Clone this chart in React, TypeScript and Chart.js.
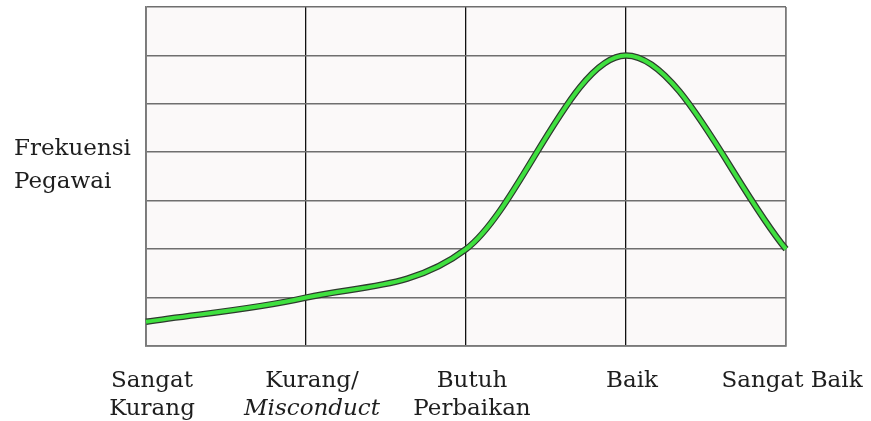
import React, { useEffect, useRef } from "react";
import { Chart, registerables } from "chart.js";

Chart.register(...registerables);

// ---- data ----
const categories = ["Sangat Kurang", "Kurang/Misconduct", "Butuh Perbaikan", "Baik", "Sangat Baik"];
const categoryLabelLines = [["Sangat", "Kurang"], ["Kurang/", "Misconduct"], ["Butuh", "Perbaikan"], ["Baik"], ["Sangat Baik"]];
const italicLines = ["Misconduct"];
const frequency = [0.5, 1, 2, 6, 2];
const yMin = 0;
const yMax = 7;
const yStep = 1;
const yTitleLines = ["Frekuensi", "Pegawai"];

const FONT = "23px 'DejaVu Serif'";
const FONT_ITALIC = "italic 23px 'DejaVu Serif'";
const TEXT_COLOR = "#1e1e1e";

const backgroundPlugin = {
  id: "plotBackground",
  beforeDraw(chart: any) {
    const { ctx, chartArea } = chart;
    ctx.save();
    ctx.fillStyle = "#fbf9f9";
    ctx.fillRect(chartArea.left, chartArea.top, chartArea.right - chartArea.left, chartArea.bottom - chartArea.top);
    ctx.restore();
  },
};

const textPlugin = {
  id: "customText",
  afterDraw(chart: any) {
    const { ctx, chartArea } = chart;
    const xs = chart.scales.x;
    const ys = chart.scales.y;
    ctx.save();
    ctx.fillStyle = TEXT_COLOR;
    ctx.textBaseline = "alphabetic";
    ctx.textAlign = "center";
    categoryLabelLines.forEach((lines, i) => {
      const px = xs.getPixelForValue(i) + 6;
      lines.forEach((line, j) => {
        ctx.font = italicLines.includes(line) ? FONT_ITALIC : FONT;
        ctx.fillText(line, px, chartArea.bottom + 41 + j * 28);
      });
    });
    ctx.textAlign = "left";
    ctx.font = FONT;
    const mid = ys.getPixelForValue(4);
    yTitleLines.forEach((line, j) => {
      ctx.fillText(line, 14, mid + 3 + j * 33);
    });
    ctx.restore();
  },
};

export default function App() {
  const ref = useRef<HTMLCanvasElement | null>(null);
  useEffect(() => {
    if (!ref.current) return;
    const chart = new Chart(ref.current, {
      type: "line",
      data: {
        labels: categories,
        datasets: [
          {
            data: frequency,
            borderColor: "#3fe03f",
            borderWidth: 4,
            pointRadius: 0,
            cubicInterpolationMode: "monotone",
            order: 0,
          },
          {
            data: frequency,
            borderColor: "#2e3a2e",
            borderWidth: 6.5,
            pointRadius: 0,
            cubicInterpolationMode: "monotone",
            order: 1,
          },
        ],
      },
      options: {
        animation: false,
        responsive: false,
        layout: { padding: { left: 146, right: 85, top: 7, bottom: 75 } },
        plugins: { legend: { display: false }, tooltip: { enabled: false }, title: { display: false } },
        scales: {
          x: {
            type: "category",
            offset: false,
            ticks: { display: false },
            grid: {
              drawTicks: false,
              color: (c: any) => (c.index === 0 || c.index === categories.length - 1 ? "#7a7a7a" : "#111111"),
              lineWidth: (c: any) => (c.index === 0 || c.index === categories.length - 1 ? 1.8 : 1.3),
            },
            border: { display: true, color: "#7a7a7a", width: 1.8 },
            afterFit: (s: any) => {
              s.height = 0;
            },
          },
          y: {
            min: yMin,
            max: yMax,
            ticks: { display: false, stepSize: yStep },
            grid: { drawTicks: false, color: "#6f6f6f", lineWidth: 1.6 },
            border: { display: true, color: "#7a7a7a", width: 1.8 },
            afterFit: (s: any) => {
              s.width = 0;
            },
          },
        },
      },
      plugins: [backgroundPlugin, textPlugin],
    });
    return () => chart.destroy();
  }, []);
  return (
    <div style={{ position: "absolute", left: 0, top: 0, width: 871, height: 421, background: "#ffffff" }}>
      <canvas ref={ref} width={871} height={421} />
    </div>
  );
}
